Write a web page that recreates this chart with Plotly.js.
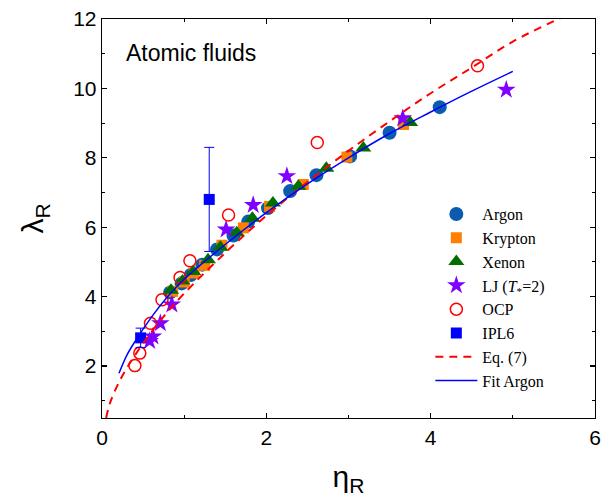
<!DOCTYPE html>
<html>
<head>
<meta charset="utf-8">
<script src="https://cdn.plot.ly/plotly-3.0.1.min.js"></script>
<style>html,body{margin:0;padding:0;background:#fff;}#chart{width:604px;height:500px;}</style>
</head>
<body>
<div id="chart"></div>
<script>
// Argon
const argonX = [0.83, 0.97, 1.08, 1.22, 1.40, 1.60, 1.78, 2.02, 2.29, 2.61, 3.02, 3.50, 4.11];
const argonY = [4.12, 4.38, 4.62, 4.92, 5.36, 5.76, 6.16, 6.55, 7.04, 7.50, 8.04, 8.72, 9.46];
// Krypton
const kryptonX = [0.86, 1.00, 1.12, 1.25, 1.46, 1.72, 2.04, 2.45, 2.98, 3.67];
const kryptonY = [4.15, 4.42, 4.68, 4.90, 5.48, 5.98, 6.60, 7.23, 8.02, 8.96];
// Xenon
const xenonX = [0.84, 0.98, 1.11, 1.29, 1.44, 1.64, 1.83, 2.08, 2.39, 2.73, 3.18, 3.75];
const xenonY = [4.18, 4.45, 4.72, 5.06, 5.42, 5.84, 6.26, 6.70, 7.18, 7.70, 8.28, 9.02];
// LJ (T*=2)
const ljX = [0.58, 0.62, 0.71, 0.85, 1.51, 1.84, 2.25, 3.66, 4.92];
const ljY = [2.72, 2.85, 3.23, 3.77, 5.93, 6.64, 7.47, 9.14, 9.96];
// OCP
const ocpX = [0.40, 0.46, 0.59, 0.73, 0.95, 1.07, 1.54, 2.62, 4.57];
const ocpY = [2.01, 2.37, 3.23, 3.91, 4.55, 5.03, 6.35, 8.44, 10.65];
// IPL6
const iplX = [0.47, 1.305];
const iplY = [2.81, 6.80];
const iplErr = [0.28, 1.5];
// Eq. (7) curve
const eqX = [0.05, 0.1, 0.2, 0.3, 0.5, 0.75, 1.0, 1.5, 2.0, 2.5, 3.0, 3.5, 4.0, 4.5, 5.0, 5.6];
const eqY = [0.5, 0.95, 1.5, 1.93, 2.65, 3.42, 4.09, 5.26, 6.33, 7.3, 8.2, 9.05, 9.86, 10.6, 11.35, 12.05];
// Fit Argon curve
const fitX = [0.207, 0.3, 0.4, 0.6, 0.8, 1.0, 1.5, 2.0, 2.5, 3.0, 3.5, 4.0, 4.5, 5.0];
const fitY = [1.79, 2.3, 2.7, 3.4, 4.0, 4.5, 5.5, 6.42, 7.25, 8.0, 8.7, 9.32, 9.92, 10.49];
// Axis ticks
const xTicks = [0, 2, 4, 6];
const yTicks = [2, 4, 6, 8, 10, 12];

const traces = [
  {x: argonX, y: argonY, name: 'Argon', mode: 'markers', type: 'scatter',
   marker: {symbol: 'circle', size: 14, color: '#0b5cae'}},
  {x: kryptonX, y: kryptonY, name: 'Krypton', mode: 'markers', type: 'scatter',
   marker: {symbol: 'square', size: 11, color: '#ff8000'}},
  {x: xenonX, y: xenonY, name: 'Xenon', mode: 'markers', type: 'scatter',
   marker: {symbol: 'triangle-up', size: 14, color: '#006f00'}},
  {x: ljX, y: ljY, name: 'LJ (<i>T</i><sub>*</sub>=2)', mode: 'markers', type: 'scatter',
   marker: {symbol: 'star', size: 14, color: '#8000ff'}},
  {x: ocpX, y: ocpY, name: 'OCP', mode: 'markers', type: 'scatter',
   marker: {symbol: 'circle-open', size: 12, color: '#ff0000', line: {width: 1.5, color: '#ff0000'}}},
  {x: iplX, y: iplY, name: 'IPL6', mode: 'markers', type: 'scatter',
   marker: {symbol: 'square', size: 11, color: '#0000ff'},
   error_y: {type: 'data', array: iplErr, visible: true, color: '#0000ff', thickness: 1, width: 5}},
  {x: eqX, y: eqY, name: 'Eq. (7)', mode: 'lines', type: 'scatter', line: {shape: 'spline', color: '#ff0000', width: 2, dash: '8px,6px'}},
  {x: fitX, y: fitY, name: 'Fit Argon', mode: 'lines', type: 'scatter', line: {shape: 'spline', color: '#0000ff', width: 1.5}}
];

const axisCommon = {
  showgrid: false, zeroline: false, showline: true, linecolor: '#000', linewidth: 1.3,
  mirror: 'allticks', ticks: 'inside', ticklen: 5, tickwidth: 1.2, tickcolor: '#000',
  tickfont: {family: 'Liberation Sans, Arial, sans-serif', size: 21, color: '#000'}
};

const layout = {
  width: 604, height: 500,
  margin: {l: 102, r: 9, t: 19, b: 82},
  paper_bgcolor: '#fff', plot_bgcolor: '#fff',
  showlegend: true,
  xaxis: Object.assign({}, axisCommon, {
    range: [0, 6], tickvals: xTicks, ticktext: xTicks.map(String),
    minor: {dtick: 1, ticks: 'inside', ticklen: 3, tickcolor: '#000', tickwidth: 1},
    title: {text: 'η<sub>R</sub>', font: {family: 'Liberation Sans, Arial, sans-serif', size: 30, color: '#000'}, standoff: 18}
  }),
  yaxis: Object.assign({}, axisCommon, {
    range: [0.5, 12], tickvals: yTicks, ticktext: yTicks.map(String),
    minor: {dtick: 1, ticks: 'inside', ticklen: 3, tickcolor: '#000', tickwidth: 1},
    title: {text: 'λ<sub>R</sub>', font: {family: 'Liberation Sans, Arial, sans-serif', size: 30, color: '#000'}, standoff: 20}
  }),
  legend: {
    x: 0.666, y: 0.05, xanchor: 'left', yanchor: 'bottom',
    bgcolor: 'rgba(0,0,0,0)', borderwidth: 0,
    font: {family: 'Liberation Serif, Times New Roman, serif', size: 16, color: '#000'},
    itemwidth: 42, tracegroupgap: 0
  },
  annotations: [{
    text: 'Atomic fluids', xref: 'paper', yref: 'paper', x: 0.045, y: 0.915,
    xanchor: 'left', yanchor: 'middle', showarrow: false,
    font: {family: 'Liberation Sans, Arial, sans-serif', size: 23, color: '#000'}
  }]
};

Plotly.newPlot('chart', traces, layout, {displayModeBar: false, staticPlot: true});
</script>
</body>
</html>
